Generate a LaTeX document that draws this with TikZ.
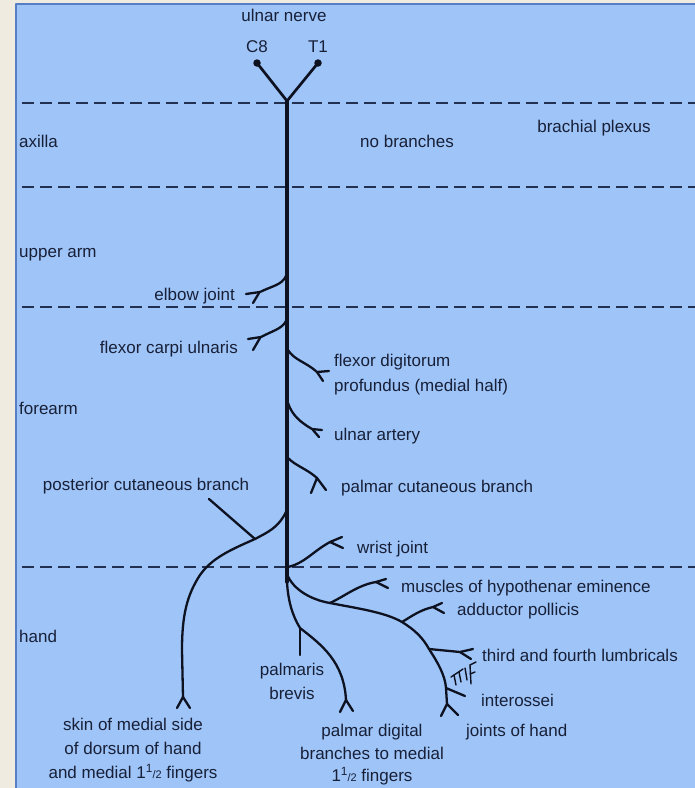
\documentclass[tikz,border=0pt]{standalone}
\usepackage{fontspec}
\setmainfont{Liberation Sans}
\usetikzlibrary{positioning}
\definecolor{ulnbg}{RGB}{158,196,248}
\definecolor{ulnframe}{RGB}{239,235,225}
\definecolor{ulnedge}{RGB}{86,126,196}
\definecolor{ulnink}{RGB}{14,18,32}
\definecolor{ulntext}{RGB}{24,32,56}
\definecolor{ulndash}{RGB}{34,48,82}

\newcommand{\oneandhalf}{1\textsuperscript{1}\kern-0.03em{\fontsize{11}{11}\selectfont/2}}

\begin{document}
\begin{tikzpicture}[
    x=1pt, y=-1pt,
    line cap=round, line join=round,
    trunk/.style={ulnink, line width=3.4pt},
    root/.style={ulnink, line width=2.7pt},
    twig/.style={ulnink, line width=2.3pt},
    scrib/.style={ulnink, line width=1.4pt},
    divider/.style={ulndash, line width=1.9pt, line cap=butt, dash pattern=on 12pt off 6pt},
    dot/.style={circle, fill=ulnink, inner sep=0pt, minimum size=7.5pt},
    lbl/.style={ulntext, font=\fontsize{17}{24}\selectfont, inner sep=0pt,
                text height=12pt, text depth=3.5pt},
    lblm/.style={ulntext, font=\fontsize{17}{24}\selectfont, inner sep=0pt, align=center},
  ]

  % ---- frame ------------------------------------------------
  \useasboundingbox (0,0) rectangle (695,788);
  \fill[ulnframe] (0,0) rectangle (695,788);
  \fill[ulnbg] (16,4) rectangle (695,788);
  \draw[ulnedge, line width=1.2pt, line cap=butt] (16,788) -- (16,4) -- (695,4);

  % ---- level dividers ---------------------------------------
  \foreach \ly in {103,187,307,567}
    \draw[divider] (22,\ly) -- (695,\ly);

  % ---- nerve coordinates ------------------------------------
  \node[dot] (C8) at (257,63) {};
  \node[dot] (T1) at (318,63) {};
  \coordinate (Y)     at (287,101);   % roots join
  \coordinate (Wr)    at (287,582);   % end of trunk
  \coordinate (bElb)  at (286,276);   % elbow joint
  \coordinate (bFcu)  at (286,321);   % flexor carpi ulnaris
  \coordinate (bFdp)  at (288,350);   % flexor digitorum profundus
  \coordinate (bUa)   at (288,403);   % ulnar artery
  \coordinate (bPcu)  at (288,458);   % palmar cutaneous
  \coordinate (bPost) at (286,512);   % posterior cutaneous
  \coordinate (PK)    at (255,539);   % pointer meets posterior branch
  \coordinate (bWj)   at (288,567);   % wrist joint
  \coordinate (bHand) at (287,574);   % deep branch leaves
  \coordinate (HM)    at (330,603);   % hypothenar muscles
  \coordinate (HA)    at (402,622);   % adductor pollicis
  \coordinate (HL)    at (429,649);   % lumbricals
  \coordinate (HI)    at (446,688);   % interossei
  \coordinate (HJ)    at (447,704);   % joints of hand
  \coordinate (PB)    at (300,628);   % palmaris brevis
  \coordinate (PD)    at (346,700);   % palmar digital
  \coordinate (ptr)   at (209,499);   % pointer start

  % ---- trunk ------------------------------------------------
  \draw[root]  (C8.center) -- (Y) -- (T1.center);
  \draw[trunk] (Y) -- (Wr);

  % ---- upper arm / forearm branches -------------------------
  \draw[twig] (bElb) .. controls (282,285) and (272,286) .. (260,292) -- (246,294);
  \draw[twig] (259,293) -- (253,303);
  \draw[twig] (bFcu) .. controls (282,329) and (272,331) .. (261,337) -- (248,339);
  \draw[twig] (260,338) -- (253,350);
  \draw[twig] (bFdp) .. controls (294,360) and (306,362) .. (317,372) -- (329,371);
  \draw[twig] (317,372) -- (323,381);
  \draw[twig] (bUa) .. controls (292,415) and (300,422) .. (312,429) -- (322,430);
  \draw[twig] (313,430) -- (319,437);
  \draw[twig] (bPcu) .. controls (296,466) and (307,469) .. (317,478);
  \draw[twig] (311,493) -- (317,478) -- (326,490);

  % ---- posterior cutaneous branch ---------------------------
  \draw[twig] (bPost) .. controls (278,528) and (268,532) .. (PK)
              .. controls (230,550) and (212,558) .. (200,575)
              .. controls (187,595) and (182,615) .. (182,650) -- (183,697);
  \draw[twig] (177,708) -- (183,697) -- (190,708);
  \draw[twig] (ptr) -- (PK);

  % ---- wrist and hand ---------------------------------------
  \draw[twig] (bWj) .. controls (305,563) and (312,552) .. (330,542) -- (342,537);
  \draw[twig] (330,542) -- (343,548);

  \draw[twig] (bHand) .. controls (293,590) and (312,600) .. (HM)
              .. controls (355,608) and (385,612) .. (HA)
              .. controls (415,630) and (423,638) .. (HL)
              .. controls (438,663) and (445,675) .. (HI) -- (HJ);
  \draw[twig] (441,716) -- (HJ) -- (458,715);
  \draw[twig] (HM) .. controls (345,596) and (358,585) .. (376,582) -- (386,579);
  \draw[twig] (376,582) -- (388,588);
  \draw[twig] (HA) .. controls (412,616) and (420,610) .. (433,607) -- (442,603);
  \draw[twig] (433,607) -- (444,613);
  \draw[twig] (HL) -- (460,652) -- (473,649);
  \draw[twig] (460,652) -- (471,659);
  \draw[twig] (HI) -- (465,696);

  \draw[twig] (Wr) .. controls (288,600) and (292,615) .. (PB)
              .. controls (322,645) and (344,662) .. (PD);
  \draw[twig] (340,712) -- (PD) -- (353,711);
  \draw[twig] (PB) -- (300,655);

  % small scribble by the lumbricals
  \draw[scrib] (451,677) -- (463,669);
  \draw[scrib] (454,675) -- (456,685);
  \draw[scrib] (459,672) -- (461,682);
  \draw[scrib] (465,668) -- (467,680);
  \draw[scrib] (470,665) -- (471,684);
  \draw[scrib] (470,665) -- (476,662);
  \draw[scrib] (470,674) -- (475,672);

  % ---- labels -----------------------------------------------
  \node[lbl] (title) at (284,17) {ulnar nerve};
  \node[lbl, above=3pt of C8] (C8lbl) {C8};
  \node[lbl, above=3pt of T1] (T1lbl) {T1};

  \node[lbl, anchor=west] (axilla)  at (19,143) {axilla};
  \node[lbl, anchor=west] (upper)   at (19,253) {upper arm};
  \node[lbl, anchor=west] (forearm) at (19,410) {forearm};
  \node[lbl, anchor=west] (hand)    at (19,638) {hand};

  \node[lbl] (nobr)   at (407,143) {no branches};
  \node[lbl] (plexus) at (594,128) {brachial plexus};

  \node[lbl, anchor=east] (elbow) at (235,296) {elbow joint};
  \node[lbl, anchor=east] (fcu)   at (238,349) {flexor carpi ulnaris};
  \node[lblm, anchor=west, align=left, font=\fontsize{17}{25}\selectfont] (fdp) at (334,375)
       {flexor digitorum\\profundus (medial half)};
  \node[lbl, anchor=west] (artery) at (334,436) {ulnar artery};
  \node[lbl, anchor=west] (pcu)    at (341,488) {palmar cutaneous branch};
  \node[lbl] (post) at (146,486) {posterior cutaneous branch};
  \node[lbl, anchor=west] (wrist)  at (357,549) {wrist joint};

  \node[lbl, anchor=west] (hypo)   at (401,588) {muscles of hypothenar eminence};
  \node[lbl, anchor=west] (adduct) at (457,611) {adductor pollicis};
  \node[lbl, anchor=west] (lumb)   at (482,657) {third and fourth lumbricals};
  \node[lbl, anchor=west] (inter)  at (481,702) {interossei};
  \node[lbl, anchor=west] (joints) at (466,732) {joints of hand};

  \node[lblm] (brevis) at (292,681) {palmaris\\brevis};
  \node[lblm, font=\fontsize{17}{22.5}\selectfont] (digital) at (372,755)
       {palmar digital\\branches to medial\\\oneandhalf\ fingers};
  \node[lblm] (skin) at (133,750)
       {skin of medial side\\of dorsum of hand\\and medial \oneandhalf\ fingers};

\end{tikzpicture}
\end{document}
